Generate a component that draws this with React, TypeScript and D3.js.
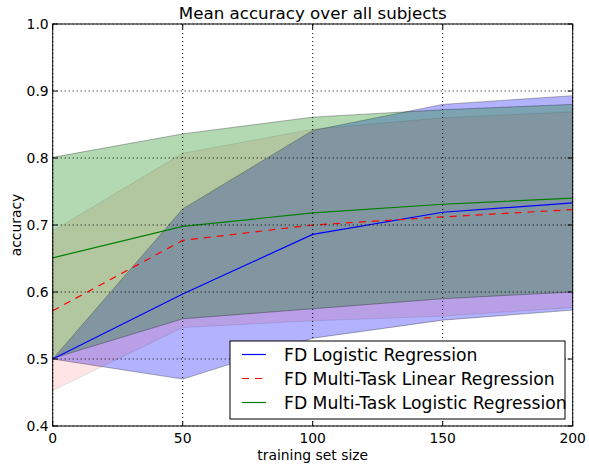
import React, { useEffect, useRef } from 'react';
import * as d3 from 'd3';

const trainSizes = [0, 50, 100, 150, 200];

// FD Logistic Regression
const lrMean = [0.500, 0.597, 0.686, 0.719, 0.733];
const lrStd = [0.000, 0.127, 0.155, 0.161, 0.160];

// FD Multi-Task Linear Regression
const mtLinMean = [0.572, 0.677, 0.700, 0.712, 0.723];
const mtLinStd = [0.119, 0.130, 0.143, 0.148, 0.146];

// FD Multi-Task Logistic Regression
const mtLogMean = [0.651, 0.698, 0.718, 0.731, 0.740];
const mtLogStd = [0.150, 0.138, 0.143, 0.141, 0.140];

const seriesNames = [
	'FD Logistic Regression',
	'FD Multi-Task Linear Regression',
	'FD Multi-Task Logistic Regression',
];

const xTicks = [0, 50, 100, 150, 200];
const yTicks = [0.4, 0.5, 0.6, 0.7, 0.8, 0.9, 1.0];

const width = 589;
const height = 468;
const margin = { left: 52.7, right: 16.3, top: 24, bottom: 42 };
const font = 'DejaVu Sans, sans-serif';

const App = () => {
	const ref = useRef<SVGSVGElement>(null);

	useEffect(() => {
		const svg = d3.select(ref.current);
		svg.selectAll('*').remove();

		const x = d3.scaleLinear().domain([0, 200]).range([margin.left, width - margin.right]);
		const y = d3.scaleLinear().domain([0.4, 1.0]).range([height - margin.bottom, margin.top]);

		const series = [
			{ name: seriesNames[0], mean: lrMean, std: lrStd, color: '#0000ff', alpha: 0.3, dash: null },
			{ name: seriesNames[1], mean: mtLinMean, std: mtLinStd, color: '#ff0000', alpha: 0.1, dash: '7,6' },
			{ name: seriesNames[2], mean: mtLogMean, std: mtLogStd, color: '#008000', alpha: 0.3, dash: null },
		];

		svg.append('defs')
			.append('clipPath')
			.attr('id', 'plot-clip')
			.append('rect')
			.attr('x', x(0))
			.attr('y', y(1))
			.attr('width', x(200) - x(0))
			.attr('height', y(0.4) - y(1));

		const plot = svg.append('g').attr('clip-path', 'url(#plot-clip)');

		// std bands
		series.forEach((s) => {
			const area = d3.area<number>()
				.x((d, i) => x(trainSizes[i]))
				.y0((d, i) => y(d - s.std[i]))
				.y1((d, i) => y(d + s.std[i]));
			plot.append('path')
				.datum(s.mean)
				.attr('d', area)
				.attr('fill', s.color)
				.attr('fill-opacity', s.alpha)
				.attr('stroke', '#000')
				.attr('stroke-opacity', s.alpha)
				.attr('stroke-width', 1);
		});

		// grid
		const grid = svg.append('g');
		xTicks.forEach((t) => {
			grid.append('line')
				.attr('x1', x(t)).attr('x2', x(t))
				.attr('y1', y(0.4)).attr('y2', y(1))
				.attr('stroke', '#000')
				.attr('stroke-width', 1)
				.attr('stroke-dasharray', '1,3');
		});
		yTicks.forEach((t) => {
			grid.append('line')
				.attr('x1', x(0)).attr('x2', x(200))
				.attr('y1', y(t)).attr('y2', y(t))
				.attr('stroke', '#000')
				.attr('stroke-width', 1)
				.attr('stroke-dasharray', '1,3');
		});

		// mean lines
		series.forEach((s) => {
			const line = d3.line<number>()
				.x((d, i) => x(trainSizes[i]))
				.y((d) => y(d));
			plot.append('path')
				.datum(s.mean)
				.attr('d', line)
				.attr('fill', 'none')
				.attr('stroke', s.color)
				.attr('stroke-width', 1.2)
				.attr('stroke-dasharray', s.dash);
		});

		// frame
		svg.append('rect')
			.attr('x', x(0))
			.attr('y', y(1))
			.attr('width', x(200) - x(0))
			.attr('height', y(0.4) - y(1))
			.attr('fill', 'none')
			.attr('stroke', '#000')
			.attr('stroke-width', 1);

		// inward ticks on all sides
		const tickLen = 5;
		const ticks = svg.append('g').attr('stroke', '#000').attr('stroke-width', 1);
		xTicks.forEach((t) => {
			ticks.append('line').attr('x1', x(t)).attr('x2', x(t)).attr('y1', y(0.4)).attr('y2', y(0.4) - tickLen);
			ticks.append('line').attr('x1', x(t)).attr('x2', x(t)).attr('y1', y(1)).attr('y2', y(1) + tickLen);
		});
		yTicks.forEach((t) => {
			ticks.append('line').attr('x1', x(0)).attr('x2', x(0) + tickLen).attr('y1', y(t)).attr('y2', y(t));
			ticks.append('line').attr('x1', x(200)).attr('x2', x(200) - tickLen).attr('y1', y(t)).attr('y2', y(t));
		});

		// tick labels
		svg.append('g')
			.selectAll('text')
			.data(xTicks)
			.enter()
			.append('text')
			.attr('x', (d) => x(d))
			.attr('y', y(0.4) + 17)
			.attr('text-anchor', 'middle')
			.style('font-family', font)
			.style('font-size', '13.9px')
			.text((d) => d);

		svg.append('g')
			.selectAll('text')
			.data(yTicks)
			.enter()
			.append('text')
			.attr('x', x(0) - 4)
			.attr('y', (d) => y(d) + 5)
			.attr('text-anchor', 'end')
			.style('font-family', font)
			.style('font-size', '13.9px')
			.text((d) => d3.format('.1f')(d));

		// axis labels and title
		svg.append('text')
			.attr('x', (x(0) + x(200)) / 2)
			.attr('y', 460)
			.attr('text-anchor', 'middle')
			.style('font-family', font)
			.style('font-size', '13.9px')
			.text('training set size');

		svg.append('text')
			.attr('transform', `translate(21, ${(y(0.4) + y(1)) / 2}) rotate(-90)`)
			.attr('text-anchor', 'middle')
			.style('font-family', font)
			.style('font-size', '13.9px')
			.text('accuracy');

		svg.append('text')
			.attr('x', (x(0) + x(200)) / 2)
			.attr('y', 19)
			.attr('text-anchor', 'middle')
			.style('font-family', font)
			.style('font-size', '16.7px')
			.text('Mean accuracy over all subjects');

		// legend
		const legend = svg.append('g');
		legend.append('rect')
			.attr('x', 230)
			.attr('y', 341)
			.attr('width', 335)
			.attr('height', 78)
			.attr('fill', '#fff')
			.attr('stroke', '#000')
			.attr('stroke-width', 1);

		series.forEach((s, i) => {
			const ly = 354.5 + i * 24;
			legend.append('line')
				.attr('x1', 242).attr('x2', 266)
				.attr('y1', ly).attr('y2', ly)
				.attr('stroke', s.color)
				.attr('stroke-width', 1.2)
				.attr('stroke-dasharray', s.dash);
			legend.append('text')
				.attr('x', 284)
				.attr('y', ly + 6)
				.style('font-family', font)
				.style('font-size', '17.2px')
				.text(s.name);
		});
	}, []);

	return (
		<svg
			ref={ref}
			width={width}
			height={height}
			style={{ position: 'absolute', left: 0, top: 0, background: '#fff' }}
		/>
	);
};

export default App;
